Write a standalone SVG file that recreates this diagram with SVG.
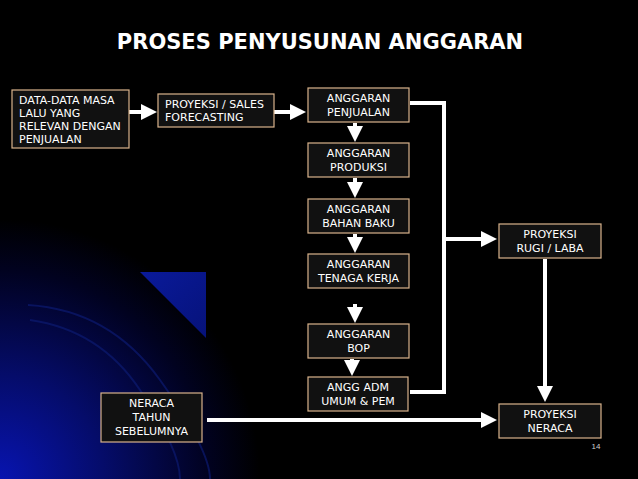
<svg xmlns="http://www.w3.org/2000/svg" width="638" height="479" viewBox="0 0 638 479">
<defs>
<radialGradient id="bg" cx="0" cy="479" r="260" gradientUnits="userSpaceOnUse">
<stop offset="0" stop-color="#0814b0"/><stop offset="0.4" stop-color="#050c6a"/><stop offset="0.8" stop-color="#010220"/><stop offset="1" stop-color="#000"/>
</radialGradient>
<linearGradient id="tri" x1="0" y1="0" x2="1" y2="1"><stop offset="0" stop-color="#0a1a9a"/><stop offset="1" stop-color="#06127a"/></linearGradient>
<marker id="ah" markerWidth="4" markerHeight="4" refX="3" refY="2" orient="auto" markerUnits="strokeWidth"><path d="M0,0L4,2L0,4z" fill="#fff"/></marker>
<style>
.box{fill:#111;stroke:#d9b38c;stroke-width:1.2}
.t{font-family:"DejaVu Sans",Verdana,sans-serif;font-size:11px;fill:#fff}
.c{text-anchor:middle}
.ln{stroke:#fff;stroke-width:4;fill:none}
</style>
</defs>
<rect width="638" height="479" fill="#000"/>
<rect width="638" height="479" fill="url(#bg)"/>
<path d="M140,272H206V338Z" fill="url(#tri)"/>
<g stroke="#0c1a70" stroke-width="2" fill="none" opacity="0.7">
<path d="M28,305 Q110,310 160,380 T210,479"/>
<path d="M30,320 Q100,330 140,390 T180,479"/>
</g>
<text x="320" y="49" class="c" style="font-family:'DejaVu Sans',Verdana,sans-serif;font-weight:bold;font-size:21px;fill:#fff">PROSES PENYUSUNAN ANGGARAN</text>
<g id="connectors">
<path class="ln" d="M129,112H153" marker-end="url(#ah)" stroke-width="3.5"/>
<path class="ln" d="M274,112H302" marker-end="url(#ah)" stroke-width="3.5"/>
<path class="ln" d="M355,123V138" marker-end="url(#ah)"/>
<path class="ln" d="M355,178V194" marker-end="url(#ah)"/>
<path class="ln" d="M355,234V249" marker-end="url(#ah)"/>
<path class="ln" d="M355,304V319" marker-end="url(#ah)"/>
<path class="ln" d="M352,359V372" marker-end="url(#ah)"/>
<path class="ln" d="M410,103H444V392H410"/>
<path class="ln" d="M444,239H493" marker-end="url(#ah)"/>
<path class="ln" d="M545,259V398" marker-end="url(#ah)"/>
<path class="ln" d="M207,420H493" marker-end="url(#ah)"/>
</g>
<g id="n1"><rect class="box" x="12" y="90" width="117" height="58"/><text class="t" x="19" y="104">DATA-DATA MASA</text><text class="t" x="19" y="117">LALU YANG</text><text class="t" x="19" y="130">RELEVAN DENGAN</text><text class="t" x="19" y="143">PENJUALAN</text></g>
<g id="n2"><rect class="box" x="158" y="94" width="116" height="33"/><text class="t" x="165" y="108">PROYEKSI / SALES</text><text class="t" x="165" y="121">FORECASTING</text></g>
<g id="n3"><rect class="box" x="308" y="88" width="101" height="34"/><text class="t c" x="358.5" y="102">ANGGARAN</text><text class="t c" x="358.5" y="116">PENJUALAN</text></g>
<g id="n4"><rect class="box" x="308" y="143" width="101" height="34"/><text class="t c" x="358.5" y="157">ANGGARAN</text><text class="t c" x="358.5" y="171">PRODUKSI</text></g>
<g id="n5"><rect class="box" x="308" y="199" width="101" height="34"/><text class="t c" x="358.5" y="213">ANGGARAN</text><text class="t c" x="358.5" y="227">BAHAN BAKU</text></g>
<g id="n6"><rect class="box" x="308" y="254" width="101" height="34"/><text class="t c" x="358.5" y="268">ANGGARAN</text><text class="t c" x="358.5" y="282">TENAGA KERJA</text></g>
<g id="n7"><rect class="box" x="308" y="324" width="101" height="34"/><text class="t c" x="358.5" y="338">ANGGARAN</text><text class="t c" x="358.5" y="352">BOP</text></g>
<g id="n8"><rect class="box" x="308" y="377" width="100" height="34"/><text class="t c" x="358" y="391">ANGG ADM</text><text class="t c" x="358" y="405">UMUM &amp; PEM</text></g>
<g id="n9"><rect class="box" x="499" y="224" width="102" height="34"/><text class="t c" x="550" y="238">PROYEKSI</text><text class="t c" x="550" y="252">RUGI / LABA</text></g>
<g id="n10"><rect class="box" x="499" y="404" width="102" height="34"/><text class="t c" x="550" y="418">PROYEKSI</text><text class="t c" x="550" y="432">NERACA</text></g>
<g id="n11"><rect class="box" x="101" y="393" width="101" height="49"/><text class="t c" x="151.5" y="407">NERACA</text><text class="t c" x="151.5" y="421">TAHUN</text><text class="t c" x="151.5" y="435">SEBELUMNYA</text></g>
<text x="596" y="449" style="font-family:'Liberation Sans',Arial,sans-serif;font-size:8px;fill:#ccc" text-anchor="middle">14</text>
</svg>
